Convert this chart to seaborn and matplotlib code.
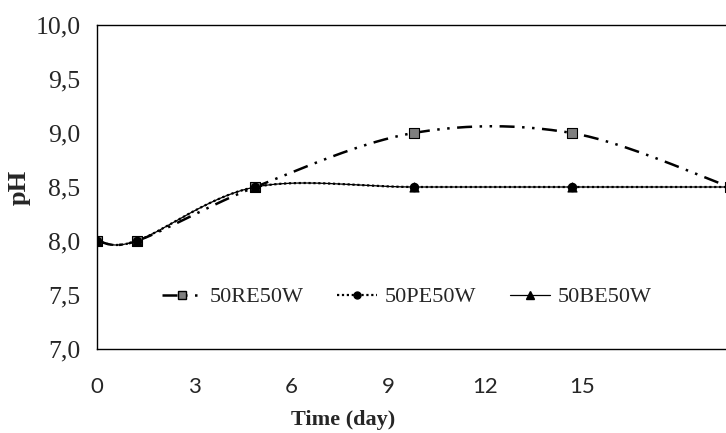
import numpy as np
import pandas as pd
import matplotlib
matplotlib.use('Agg')
import matplotlib.pyplot as plt
import seaborn as sns
from matplotlib.lines import Line2D

# data
days = [0, 1, 4, 8, 12, 16]
ph_re = [8.0, 8.0, 8.5, 9.0, 9.0, 8.5]
ph_pe = [8.0, 8.0, 8.5, 8.5, 8.5, 8.5]
ph_be = [8.0, 8.0, 8.5, 8.5, 8.5, 8.5]
series_names = ['50RE50W', '50PE50W', '50BE50W']
x_tick_labels = [0, 3, 6, 9, 12, 15]
y_ticks = [7.0, 7.5, 8.0, 8.5, 9.0, 9.5, 10.0]

# the printed day labels do not sit on the data scale; this is the offset of one label unit
label_scale = 0.8177


def excel_smooth(x, y, n=40):
    '''Bezier smoothing like Excel's "smoothed line" option'''
    pts = np.column_stack([x, y]).astype(float)
    padded = np.vstack([pts[0], pts, pts[-1]])
    out = []
    t = np.linspace(0, 1, n)[:, None]
    for i in range(len(pts) - 1):
        p0, p1, p2, p3 = padded[i], padded[i + 1], padded[i + 2], padded[i + 3]
        c1 = p1 + (p2 - p0) / 6
        c2 = p2 - (p3 - p1) / 6
        seg = (1 - t) ** 3 * p1 + 3 * (1 - t) ** 2 * t * c1 + 3 * (1 - t) * t ** 2 * c2 + t ** 3 * p2
        out.append(seg if i == 0 else seg[1:])
    return np.vstack(out)


sns.set_style('white')
plt.rcParams['font.family'] = ['Liberation Serif', 'DejaVu Serif']

fig = plt.figure(figsize=(7.26, 4.33), dpi=100)
# axes runs slightly past the right edge of the figure, as in the original
ax = fig.add_axes([97 / 726, 1 - 349 / 433, 633 / 726, 324 / 433])

styles = {
    '50RE50W': dict(ls=(0, (6, 3, 1, 3, 1, 3)), lw=1.8, marker='s', face='#7f7f7f', ms=7),
    '50PE50W': dict(ls=(0, (1, 1.2)), lw=1.6, marker='o', face='black', ms=6),
    '50BE50W': dict(ls='-', lw=0.9, marker='^', face='black', ms=6.5),
}
values = {'50RE50W': ph_re, '50PE50W': ph_pe, '50BE50W': ph_be}

for name in series_names:
    st = styles[name]
    curve = excel_smooth(days, values[name])
    df = pd.DataFrame({'day': curve[:, 0], 'pH': curve[:, 1]})
    sns.lineplot(data=df, x='day', y='pH', sort=False, estimator=None, ax=ax,
                 color='black', linewidth=st['lw'], linestyle=st['ls'], zorder=2)

for name in series_names:
    st = styles[name]
    pts = pd.DataFrame({'day': days, 'pH': values[name]})
    sns.scatterplot(data=pts, x='day', y='pH', ax=ax, marker=st['marker'], s=st['ms'] ** 2,
                    color=st['face'], edgecolor='black', linewidth=0.8, zorder=3, clip_on=True)

ax.set_xlim(0, 16)
ax.set_ylim(7.0, 10.0)
ax.set_yticks(y_ticks)
ax.set_yticklabels([f'{v:.1f}'.replace('.', ',') for v in y_ticks], fontsize=18.5)
ax.set_xticks([v * label_scale for v in x_tick_labels])
ax.set_xticklabels([str(v) for v in x_tick_labels], fontsize=16, family=['Lato', 'DejaVu Sans'])
ax.tick_params(axis='both', direction='out', length=6, width=1, color='black')
ax.tick_params(axis='y', pad=6)
ax.tick_params(axis='x', pad=14)

for side in ['left', 'bottom', 'top']:
    ax.spines[side].set_color('black')
    ax.spines[side].set_linewidth(1.0)
ax.spines['right'].set_visible(False)

ax.set_ylabel('pH', fontsize=19, fontweight='bold')
ax.yaxis.set_label_coords(-0.105, 0.5)
ax.set_xlabel('Time (day)', fontsize=16, fontweight='bold')
ax.xaxis.set_label_coords((343 - 97) / 633, -(410 - 349) / 324)

handles = []
for name in series_names:
    st = styles[name]
    handles.append(Line2D([0], [0], color='black', linestyle=st['ls'], linewidth=st['lw'],
                          marker=st['marker'], markersize=st['ms'] - 1,
                          markerfacecolor=st['face'], markeredgecolor='black'))
ax.legend(handles, series_names, loc='center', bbox_to_anchor=(0.489, 0.16), ncol=3,
          frameon=False, fontsize=16, handlelength=1.8, handletextpad=0.35, columnspacing=1.5)

fig.savefig('out.png', dpi=100)
